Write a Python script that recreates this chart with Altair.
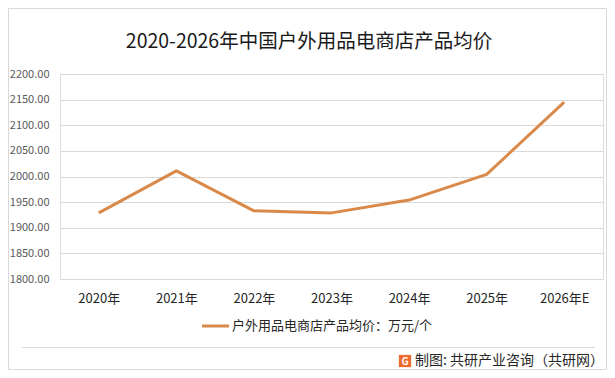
import altair as alt
import pandas as pd

years = ["2020年", "2021年", "2022年", "2023年", "2024年", "2025年", "2026年E"]
prices = [1929, 2011, 1933, 1929, 1954, 2004, 2145]
y_ticks = [1800, 1850, 1900, 1950, 2000, 2050, 2100, 2150, 2200]

title_text = "2020-2026年中国户外用品电商店产品均价"
legend_text = "户外用品电商店产品均价：万元/个"
footer_text = "制图: 共研产业咨询（共研网）"

FONT = "Noto Sans CJK SC"
LINE_COLOR = "#D98A4B"

df = pd.DataFrame({"year": years, "price": prices})
one = pd.DataFrame({"k": [0]})

x_enc = alt.X(
    "year:N",
    sort=years,
    scale=alt.Scale(type="point", padding=0.5),
    axis=alt.Axis(
        title=None, labelAngle=0, ticks=False, domain=False, grid=False,
        labelFont=FONT, labelFontSize=13, labelColor="#262626", labelPadding=13,
    ),
)
y_enc = alt.Y(
    "price:Q",
    scale=alt.Scale(domain=[1800, 2200], nice=False, zero=False),
    axis=alt.Axis(
        title=None, values=y_ticks, format=".2f", ticks=False, domain=False,
        grid=True, gridColor="#D9D9D9", gridWidth=1,
        labelFont=FONT, labelFontSize=11, labelColor="#595959", labelPadding=11,
    ),
)

line = alt.Chart(df).mark_line(color=LINE_COLOR, strokeWidth=3, strokeJoin="round").encode(
    x=x_enc, y=y_enc
)

border = alt.Chart(one).mark_rect(fill=None, stroke="#D9D9D9", strokeWidth=1).encode(
    x=alt.value(-51.5), x2=alt.value(546.5), y=alt.value(-65.5), y2=alt.value(295.5)
)

separator = alt.Chart(one).mark_rule(color="#D9D9D9", strokeWidth=1).encode(
    x=alt.value(-38), x2=alt.value(535), y=alt.value(273.5)
)

title = alt.Chart(one).mark_text(
    text=title_text, font=FONT, fontSize=19.5, color="#1A1A1A", align="center", baseline="middle"
).encode(x=alt.value(249), y=alt.value(-32))

legend_line = alt.Chart(one).mark_rule(color=LINE_COLOR, strokeWidth=3).encode(
    x=alt.value(142), x2=alt.value(169), y=alt.value(252)
)
legend_label = alt.Chart(one).mark_text(
    text=legend_text, font=FONT, fontSize=13, color="#262626", align="left", baseline="middle"
).encode(x=alt.value(172), y=alt.value(252))

icon = alt.Chart(one).mark_square(size=150, color="#EE6A2C", opacity=1).encode(
    x=alt.value(345), y=alt.value(287)
)
icon_g = alt.Chart(one).mark_text(
    text="G", font=FONT, fontSize=10, fontWeight="bold", color="white", align="center", baseline="middle"
).encode(x=alt.value(345), y=alt.value(287.5))

footer = alt.Chart(one).mark_text(
    text=footer_text, font=FONT, fontSize=14, color="#262626", align="left", baseline="middle"
).encode(x=alt.value(355), y=alt.value(287))

chart = alt.layer(
    border, separator, title, line, legend_line, legend_label, icon, icon_g, footer
).properties(
    width=543, height=205,
    autosize=alt.AutoSizeParams(type="none"),
    padding={"left": 52, "top": 66, "right": 4, "bottom": 91},
).configure_view(stroke=None).configure(background="white")

chart.save("out.html", embed_options={"renderer": "svg", "actions": False})
